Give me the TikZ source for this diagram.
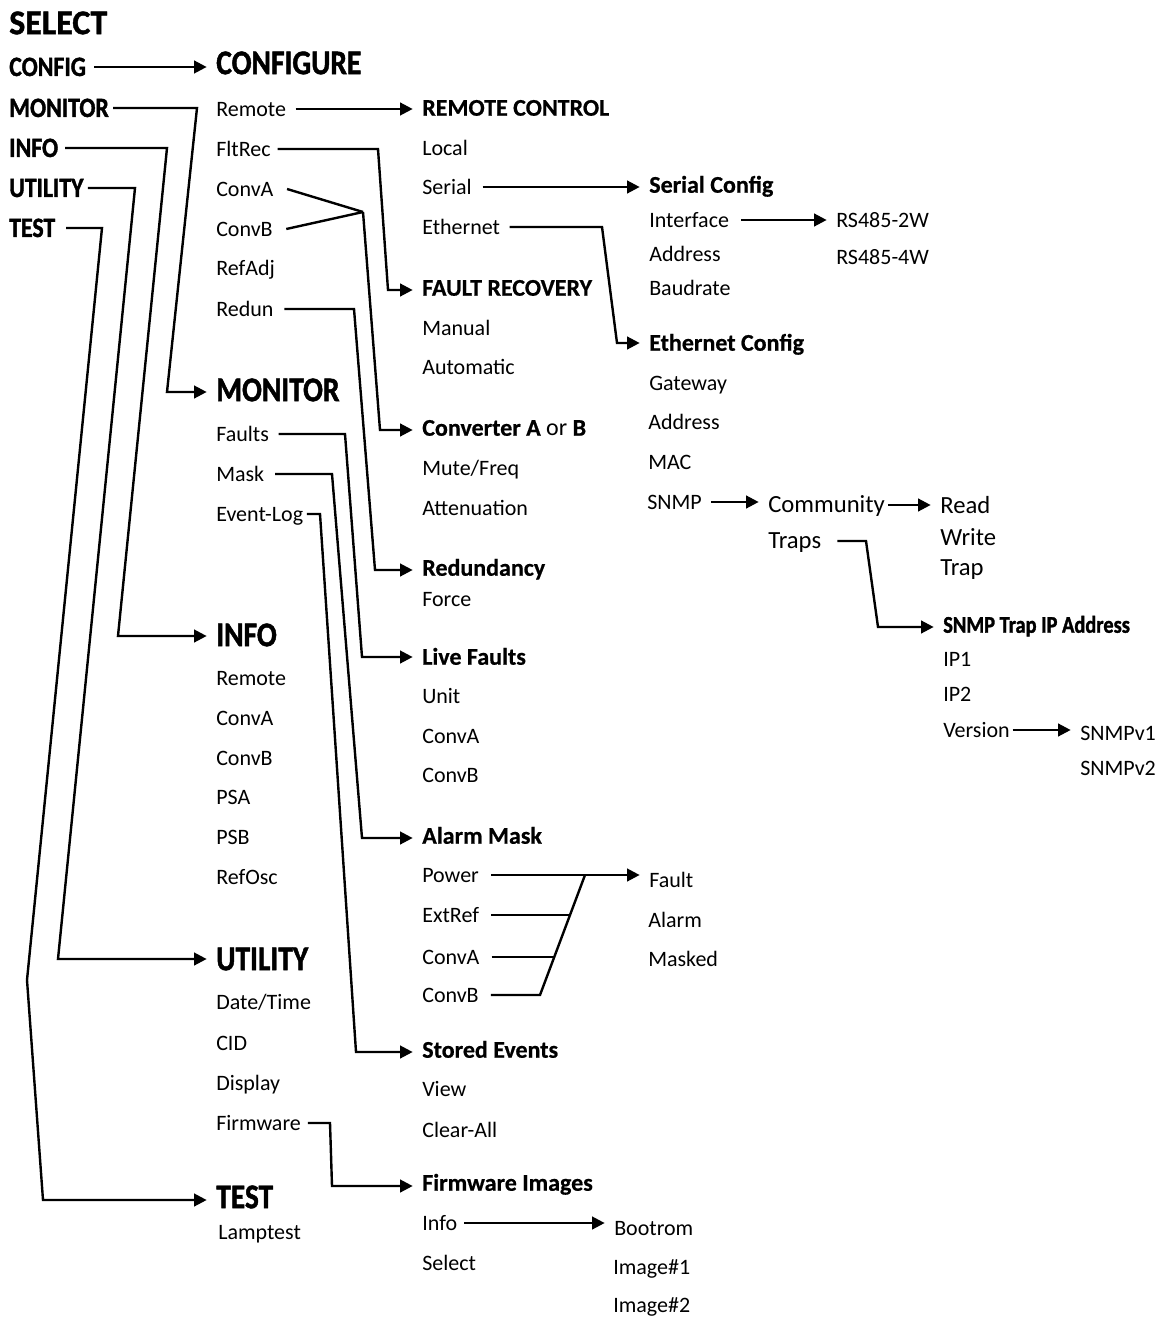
\documentclass[tikz,border=0pt]{standalone}
\usepackage{fontspec}
\setmainfont{Carlito}
\newfontfamily\condfont{Carlito}[FakeStretch=0.85,FakeBold=1.3]
\newfontfamily\widefont{Carlito}[FakeStretch=0.98,FakeBold=1.3]
\newfontfamily\subfont{Carlito}[FakeBold=0.6]
\usetikzlibrary{arrows.meta}
\begin{document}
\begin{tikzpicture}[x=0.75pt,y=-0.75pt,
  body/.style={anchor=west,inner sep=0pt,font=\fontsize{16.5pt}{18pt}\selectfont,text height=10.6pt,text depth=0pt},
  bigbody/.style={body,font=\fontsize{18.5pt}{20pt}\selectfont,text height=11.9pt},
  head/.style={anchor=west,inner sep=0pt,font=\condfont\bfseries\fontsize{26pt}{28pt}\selectfont,text height=16.8pt,text depth=0pt},
  headw/.style={head,font=\widefont\bfseries\fontsize{26pt}{28pt}\selectfont},
  top/.style={anchor=west,inner sep=0pt,font=\condfont\bfseries\fontsize{21pt}{23pt}\selectfont,text height=13.5pt,text depth=0pt},
  sub/.style={anchor=west,inner sep=0pt,font=\subfont\bfseries\fontsize{18pt}{20pt}\selectfont,text height=11.6pt,text depth=0pt},
  subc/.style={sub,font=\condfont\bfseries\fontsize{18pt}{20pt}\selectfont},
  conn/.style={draw,line width=1.8pt,line join=miter},
  arr/.style={conn,-{Triangle[length=9.5pt,width=9.5pt]},shorten >=7pt}]
\useasboundingbox (0,0) rectangle (1163,1319);
\fill[white] (0,0) rectangle (1163,1319);

% column 1
\node[headw] (sel) at (9,23) {SELECT};
\node[top] (cfg) at (9,67) {CONFIG};
\node[top] (mon) at (9,108) {MONITOR};
\node[top] (inf) at (9,148) {INFO};
\node[top] (uti) at (9,188) {UTILITY};
\node[top] (tst) at (9,228) {TEST};

% column 2
\node[head] (hconf) at (216,63) {CONFIGURE};
\node[body] (c_remote) at (216,109) {Remote};
\node[body] (c_fltrec) at (216,149) {FltRec};
\node[body] (c_conva) at (216,189) {ConvA};
\node[body] (c_convb) at (216,229) {ConvB};
\node[body] (c_refadj) at (216,268) {RefAdj};
\node[body] (c_redun) at (216,309) {Redun};
\node[head] (hmon) at (216,390) {MONITOR};
\node[body] (m_faults) at (216,434) {Faults};
\node[body] (m_mask) at (216,474) {Mask};
\node[body] (m_event) at (216,514) {Event-Log};
\node[head] (hinfo) at (216,635) {INFO};
\node[body] (i_remote) at (216,678) {Remote};
\node[body] (i_conva) at (216,718) {ConvA};
\node[body] (i_convb) at (216,758) {ConvB};
\node[body] (i_psa) at (216,797) {PSA};
\node[body] (i_psb) at (216,837) {PSB};
\node[body] (i_refosc) at (216,877) {RefOsc};
\node[head] (hutil) at (216,959) {UTILITY};
\node[body] (u_date) at (216,1002) {Date/Time};
\node[body] (u_cid) at (216,1043) {CID};
\node[body] (u_disp) at (216,1083) {Display};
\node[body] (u_firm) at (216,1123) {Firmware};
\node[head] (htest) at (216,1197) {TEST};
\node[body] (t_lamp) at (218,1232) {Lamptest};

% column 3
\node[sub] (s_remote) at (422,108) {REMOTE CONTROL};
\node[body] (rc_local) at (422,148) {Local};
\node[body] (rc_serial) at (422,187) {Serial};
\node[body] (rc_eth) at (422,227) {Ethernet};
\node[sub] (s_fault) at (422,288) {FAULT RECOVERY};
\node[body] (fr_manual) at (422,328) {Manual};
\node[body] (fr_auto) at (422,367) {Automatic};
\node[sub] (s_conv) at (422,428) {Converter A {\rmfamily\mdseries or} B};
\node[body] (cv_mute) at (422,468) {Mute/Freq};
\node[body] (cv_att) at (422,508) {Attenuation};
\node[sub] (s_redun) at (422,568) {Redundancy};
\node[body] (rd_force) at (422,599) {Force};
\node[sub] (s_live) at (422,657) {Live Faults};
\node[body] (lf_unit) at (422,696) {Unit};
\node[body] (lf_conva) at (422,736) {ConvA};
\node[body] (lf_convb) at (422,775) {ConvB};
\node[sub] (s_alarm) at (422,836) {Alarm Mask};
\node[body] (am_power) at (422,875) {Power};
\node[body] (am_extref) at (422,915) {ExtRef};
\node[body] (am_conva) at (422,957) {ConvA};
\node[body] (am_convb) at (422,995) {ConvB};
\node[sub] (s_stored) at (422,1050) {Stored Events};
\node[body] (se_view) at (422,1089) {View};
\node[body] (se_clear) at (422,1130) {Clear-All};
\node[sub] (s_firm) at (422,1183) {Firmware Images};
\node[body] (fi_info) at (422,1223) {Info};
\node[body] (fi_select) at (422,1263) {Select};

% column 4
\node[sub] (s_serial) at (649,185) {Serial Config};
\node[body] (sc_iface) at (649,220) {Interface};
\node[body] (sc_addr) at (649,254) {Address};
\node[body] (sc_baud) at (649,288) {Baudrate};
\node[sub] (s_eth) at (649,343) {Ethernet Config};
\node[body] (ec_gw) at (649,383) {Gateway};
\node[body] (ec_addr) at (648,422) {Address};
\node[body] (ec_mac) at (648,462) {MAC};
\node[body] (ec_snmp) at (647,502) {SNMP};
\node[body] (am_fault) at (649,880) {Fault};
\node[body] (am_alarm) at (648,920) {Alarm};
\node[body] (am_masked) at (648,959) {Masked};
\node[body] (fw_boot) at (614,1228) {Bootrom};
\node[body] (fw_img1) at (613,1267) {Image\#1};
\node[body] (fw_img2) at (613,1305) {Image\#2};

% column 5
\node[body] (rs2w) at (836,220) {RS485-2W};
\node[body] (rs4w) at (836,257) {RS485-4W};
\node[bigbody] (sn_comm) at (768,505) {Community};
\node[bigbody] (sn_traps) at (768,541) {Traps};
\node[bigbody] (sn_read) at (940,506) {Read};
\node[bigbody] (sn_write) at (940,538) {Write};
\node[bigbody] (sn_trap) at (940,568) {Trap};
\node[subc] (s_trapip) at (943,625) {SNMP Trap IP Address};
\node[body] (ti_ip1) at (943,659) {IP1};
\node[body] (ti_ip2) at (943,694) {IP2};
\node[body] (ti_ver) at (943,730) {Version};
\node[body] (v1) at (1080,733) {SNMPv1};
\node[body] (v2) at (1080,768) {SNMPv2};

% bend points
\coordinate (mA) at (197,0);   \coordinate (mB) at (167,392);
\coordinate (iA) at (167,0);   \coordinate (iB) at (118,636);
\coordinate (uA) at (135,0);   \coordinate (uB) at (58,959);
\coordinate (tA) at (102,0);   \coordinate (tK) at (27,980);  \coordinate (tB) at (43,1200);
\coordinate (fA) at (378,0);   \coordinate (fB) at (388,290);
\coordinate (cJ) at (363,212); \coordinate (cB) at (380,430);
\coordinate (rA) at (354,0);   \coordinate (rB) at (375,570);
\coordinate (faA) at (345,0);  \coordinate (faB) at (362,657);
\coordinate (maA) at (332,0);  \coordinate (maB) at (362,838);
\coordinate (evA) at (320,0);  \coordinate (evB) at (356,1052);
\coordinate (ethA) at (602,0); \coordinate (ethB) at (617,343);
\coordinate (trA) at (866,0);  \coordinate (trB) at (878,627);
\coordinate (fwA) at (330,0);  \coordinate (fwB) at (332,1186);
\coordinate (fanT) at (585,0); \coordinate (fanB) at (540,0);
\coordinate (fanE) at (570,0); \coordinate (fanC) at (554,0);

% select connectors
\draw[arr] ([xshift=6pt]cfg.east) -- (cfg.east -| hconf.west);
\draw[arr] ([xshift=3pt]mon.east) -- (mon.east -| mA) -- (mB) -- (mB -| hmon.west);
\draw[arr] ([xshift=5pt]inf.east) -- (inf.east -| iA) -- (iB) -- (iB -| hinfo.west);
\draw[arr] ([xshift=3pt]uti.east) -- (uti.east -| uA) -- (uB) -- (uB -| hutil.west);
\draw[arr] ([xshift=8pt]tst.east) -- (tst.east -| tA) -- (tK) -- (tB) -- (tB -| htest.west);

% configure connectors
\draw[arr] ([xshift=7pt]c_remote.east) -- (c_remote.east -| s_remote.west);
\draw[arr] ([xshift=5pt]c_fltrec.east) -- (c_fltrec.east -| fA) -- (fB) -- (fB -| s_fault.west);
\draw[conn] ([xshift=10pt]c_conva.east) -- (cJ);
\draw[conn] ([xshift=10pt]c_convb.east) -- (cJ);
\draw[arr] (cJ) -- (cB) -- (cB -| s_conv.west);
\draw[arr] ([xshift=8pt]c_redun.east) -- (c_redun.east -| rA) -- (rB) -- (rB -| s_redun.west);

% monitor connectors
\draw[arr] ([xshift=7pt]m_faults.east) -- (m_faults.east -| faA) -- (faB) -- (faB -| s_live.west);
\draw[arr] ([xshift=8pt]m_mask.east) -- (m_mask.east -| maA) -- (maB) -- (maB -| s_alarm.west);
\draw[arr] ([xshift=2.5pt]m_event.east) -- (m_event.east -| evA) -- (evB) -- (evB -| s_stored.west);

% remote control connectors
\draw[arr] ([xshift=8pt]rc_serial.east) -- (rc_serial.east -| s_serial.west);
\draw[arr] ([xshift=7pt]rc_eth.east) -- (rc_eth.east -| ethA) -- (ethB) -- (ethB -| s_eth.west);
\draw[arr] ([xshift=9pt]sc_iface.east) -- (sc_iface.east -| rs2w.west);

% snmp connectors
\draw[arr] ([xshift=7pt]ec_snmp.east) -- (ec_snmp.east -| sn_comm.west);
\draw[arr] ([xshift=2pt]sn_comm.east) -- (sn_comm.east -| sn_read.west);
\draw[arr] ([xshift=12pt]sn_traps.east) -- (sn_traps.east -| trA) -- (trB) -- (trB -| s_trapip.west);
\draw[arr] ([xshift=2pt]ti_ver.east) -- (ti_ver.east -| v1.west);

% alarm mask connectors
\draw[arr] ([xshift=9pt]am_power.east) -- (am_power.east -| am_fault.west);
\draw[conn] ([xshift=9pt]am_extref.east) -- (am_extref.east -| fanE);
\draw[conn] ([xshift=9pt]am_conva.east) -- (am_conva.east -| fanC);
\draw[conn] ([xshift=9pt]am_convb.east) -- (am_convb.east -| fanB) -- (am_power.east -| fanT);

% utility / firmware connectors
\draw[arr] ([xshift=5pt]u_firm.east) -- (u_firm.east -| fwA) -- (fwB) -- (fwB -| s_firm.west);
\draw[arr] ([xshift=5pt]fi_info.east) -- (fi_info.east -| fw_boot.west);
\end{tikzpicture}
\end{document}
